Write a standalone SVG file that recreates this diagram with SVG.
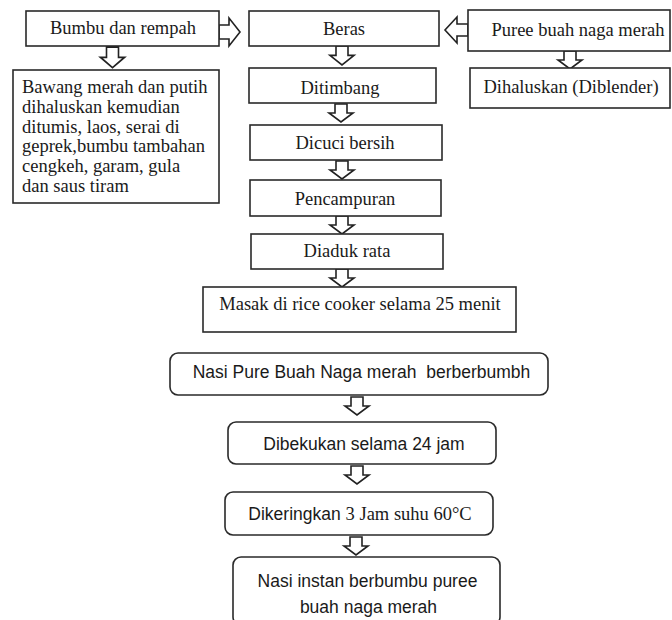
<svg xmlns="http://www.w3.org/2000/svg" xmlns:xlink="http://www.w3.org/1999/xlink" width="672" height="620" viewBox="0 0 672 620">
<style>
.box{fill:#fff;stroke:#2a2a2a;stroke-width:1.6}
.arr{fill:#fff;stroke:#222;stroke-width:1.6;stroke-linejoin:miter}
.s{font-family:"Liberation Serif","Times New Roman",serif;font-size:18.5px;fill:#1a1a1a}
.a{font-family:"Liberation Sans",Arial,sans-serif;font-size:17.5px;fill:#1a1a1a}
.c{text-anchor:middle}
</style>
<defs>
<path id="darr" d="M-6,0 H6 V9 H12 L0,18 L-12,9 H-6 Z"/>
</defs>
<rect width="672" height="620" fill="#fff"/>
<g id="connectors">
<use xlink:href="#darr" class="arr" transform="translate(112.5,47) scale(1,1.15)"/>
<path class="arr" d="M219,25 H229 V18 L240,32 L229,46 V39 H219 Z"/>
<path class="arr" d="M468,24 H457 V17 L445,30 L457,43 V36 H468 Z"/>
<use xlink:href="#darr" class="arr" transform="translate(342,46) scale(1,1.05)"/>
<use xlink:href="#darr" class="arr" transform="translate(570,51)"/>
<use xlink:href="#darr" class="arr" transform="translate(341,104)"/>
<use xlink:href="#darr" class="arr" transform="translate(342,161)"/>
<use xlink:href="#darr" class="arr" transform="translate(342,216)"/>
<use xlink:href="#darr" class="arr" transform="translate(342,269)"/>
<use xlink:href="#darr" class="arr" transform="translate(357,397)"/>
<use xlink:href="#darr" class="arr" transform="translate(357,466)"/>
<use xlink:href="#darr" class="arr" transform="translate(356,537)"/>
</g>
<g id="bumbu"><rect class="box" x="26" y="11" width="193" height="35"/><text class="s c" x="123" y="34">Bumbu dan rempah</text></g>
<g id="beras"><rect class="box" x="249" y="11" width="190" height="35"/><text class="s c" x="344" y="35">Beras</text></g>
<g id="puree"><rect class="box" x="468" y="10" width="202" height="41"/><text class="s c" x="578" y="36">Puree buah naga merah</text></g>
<g id="dihaluskan"><rect class="box" x="470" y="68" width="200" height="40"/><text class="s c" x="571" y="93">Dihaluskan (Diblender)</text></g>
<g id="bawang"><rect class="box" x="13" y="70" width="206" height="133"/>
<text class="s" x="22" y="93">Bawang merah dan putih</text>
<text class="s" x="22" y="113">dihaluskan kemudian</text>
<text class="s" x="22" y="133">ditumis, laos, serai di</text>
<text class="s" x="22" y="152">geprek,bumbu tambahan</text>
<text class="s" x="22" y="172">cengkeh, garam, gula</text>
<text class="s" x="22" y="192">dan saus tiram</text>
</g>
<g id="ditimbang"><rect class="box" x="249" y="68" width="187" height="35"/><text class="s c" x="340" y="94">Ditimbang</text></g>
<g id="dicuci"><rect class="box" x="250" y="125" width="192" height="35"/><text class="s c" x="345" y="149">Dicuci bersih</text></g>
<g id="pencampuran"><rect class="box" x="250" y="180" width="191" height="36"/><text class="s c" x="345" y="205">Pencampuran</text></g>
<g id="diaduk"><rect class="box" x="251" y="234" width="192" height="35"/><text class="s c" x="347" y="257">Diaduk rata</text></g>
<g id="masak"><rect class="box" x="203" y="287" width="313" height="45"/><text class="s c" x="360" y="310">Masak di rice cooker selama 25 menit</text></g>
<g id="nasipure"><rect class="box" x="170" y="353" width="378" height="42" rx="8"/><text class="a c" x="361.5" y="378">Nasi Pure Buah Naga merah&#160; berberbumbh</text></g>
<g id="dibekukan"><rect class="box" x="228" y="422" width="268" height="42" rx="8"/><text class="a c" x="364" y="450">Dibekukan selama 24 jam</text></g>
<g id="dikeringkan"><rect class="box" x="225" y="492" width="268" height="43" rx="8"/><text class="a c" x="360" y="520">Dikeringkan <tspan class="s">3 Jam suhu 60°C</tspan></text></g>
<g id="nasiinstan"><rect class="box" x="233" y="557" width="267" height="68" rx="8"/>
<text class="a c" x="367.5" y="587">Nasi instan berbumbu puree</text>
<text class="a c" x="368.5" y="613">buah naga merah</text>
</g>
</svg>
